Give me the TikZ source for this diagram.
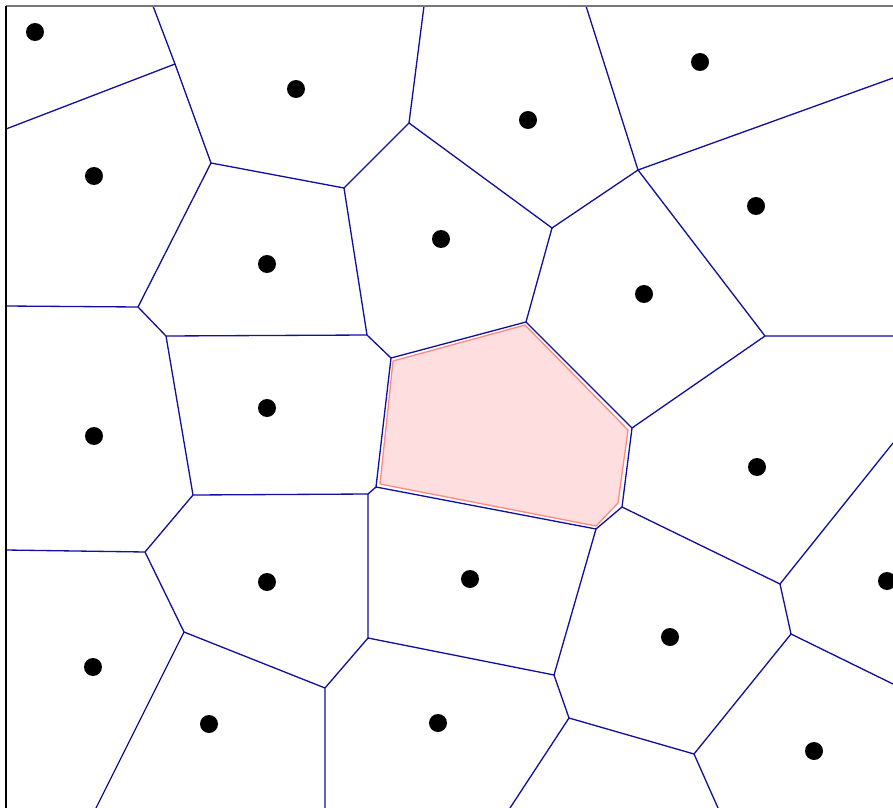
\documentclass[tikz,border=0pt]{standalone}
\usetikzlibrary{calc}
\definecolor{dunkelblau}{HTML}{10109C}
\definecolor{rosa}{HTML}{FFDEE0}
\definecolor{lachs}{HTML}{FF8A82}
\definecolor{grau}{HTML}{777777}
\tikzset{
  kante/.style={dunkelblau,line width=0.75pt},
  punkt/.style={circle,fill=black,inner sep=0pt,minimum size=0.36cm},
  zelle/.style={fill=rosa,draw=lachs,line width=0.75pt,line join=round},
  rahmen/.style={line width=0.6pt},
}
\begin{document}
\begin{tikzpicture}[x=0.02cm,y=-0.02cm]
  \useasboundingbox (0,0) rectangle (893,808);
  % Zelle ohne Zentrum
  \filldraw[zelle] (393,361)--(525,325)--(628,430)--(618,503)--(596,526)--(380,484)--cycle;
  % Ecken
  \coordinate (t1) at (153,6);  \coordinate (t2) at (424,6);  \coordinate (t3) at (586,6);
  \coordinate (l1) at (6,129);  \coordinate (l2) at (6,306);  \coordinate (l3) at (6,550);
  \coordinate (r1) at (893,78); \coordinate (r2) at (893,336);
  \coordinate (r3) at (893,443); \coordinate (r4) at (893,684);
  \coordinate (b1) at (718,808); \coordinate (b2) at (510,808);
  \coordinate (b3) at (325,808); \coordinate (b4) at (96,808);
  \coordinate (A) at (175,64);  \coordinate (B) at (211,163);
  \coordinate (C) at (344,188); \coordinate (D) at (138,307);
  \coordinate (E) at (166,336); \coordinate (F) at (367,335);
  \coordinate (G) at (193,495); \coordinate (H) at (409,123);
  \coordinate (I) at (552,228); \coordinate (J) at (638,170);
  \coordinate (K) at (765,336); \coordinate (L) at (632,428);
  \coordinate (M) at (526,322); \coordinate (N) at (391,358);
  \coordinate (O) at (376,487); \coordinate (X) at (368,494);
  \coordinate (P) at (596,529); \coordinate (Q) at (622,507);
  \coordinate (R) at (780,584); \coordinate (S) at (791,634);
  \coordinate (T) at (694,754); \coordinate (U) at (569,718);
  \coordinate (V) at (554,675); \coordinate (W) at (368,638);
  \coordinate (Y) at (325,688); \coordinate (Z) at (184,632);
  \coordinate (AA) at (145,552);
  % Kanten
  \draw[kante] (t1)--(A)--(l1) (A)--(B)--(C) (B)--(D)--(l2) (D)--(E)--(F) (E)--(G);
  \draw[kante] (C)--(F) (C)--(H)--(t2) (H)--(I)--(J)--(t3) (J)--(r1) (J)--(K)--(r2) (K)--(L);
  \draw[kante] (I)--(M)--(N) (F)--(N)--(O)--(X) (O)--(P)--(Q)--(L) (M)--(L);
  \draw[kante] (Q)--(R)--(r3) (R)--(S)--(r4) (S)--(T)--(b1) (T)--(U)--(V) (U)--(b2);
  \draw[kante] (V)--(P) (V)--(W)--(X) (G)--(X) (W)--(Y)--(b3) (Y)--(Z)--(AA)--(l3) (Z)--(b4) (AA)--(G);
  % Zentren
  \foreach \nam/\px/\py in {p1/35/32, p2/296/89, p3/528/120, p4/700/62, p5/94/176,
      p6/756/206, p7/267/264, p8/441/239, p9/644/294, p10/94/436, p11/267/408,
      p12/757/467, p13/267/582, p14/470/579, p15/887/581, p16/93/667,
      p17/670/637, p18/209/724, p19/438/723, p20/814/751}
    \node[punkt] (\nam) at (\px,\py) {};
  % Rahmen
  \draw[rahmen,grau] (6,6)--(893,6);
  \draw[rahmen] (6,6)--(6,808);
\end{tikzpicture}
\end{document}
